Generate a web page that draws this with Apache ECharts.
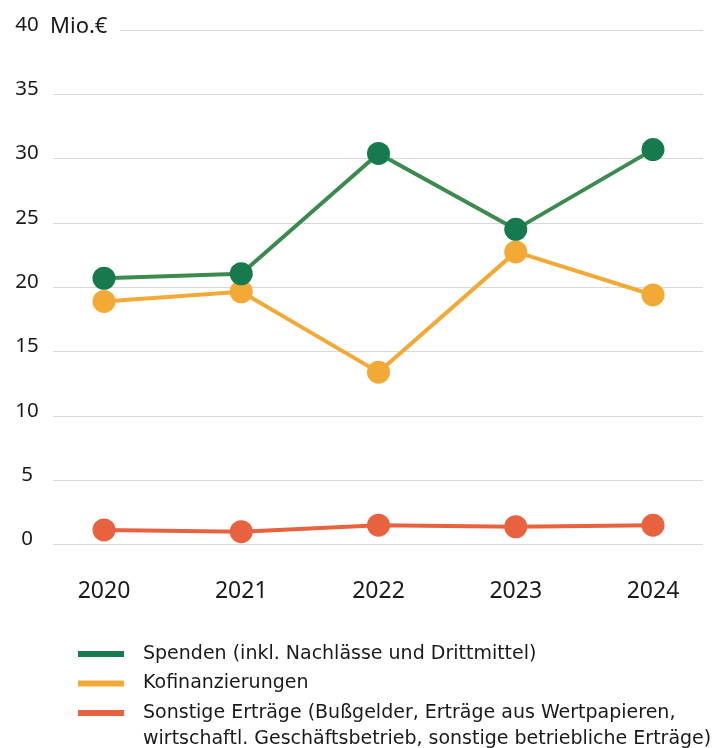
<!DOCTYPE html>
<html><head><meta charset="utf-8">
<script src="https://cdn.jsdelivr.net/npm/echarts@6/dist/echarts.min.js"></script>
<style>html,body{margin:0;padding:0;background:#fff}#c{width:716px;height:748px}</style>
</head><body><div id="c"></div>
<script>
const years = ['2020','2021','2022','2023','2024'];
const spenden = [20.7, 21.05, 30.4, 24.5, 30.7];
const kofinanzierungen = [18.9, 19.65, 13.4, 22.75, 19.4];
const sonstige = [1.13, 1.0, 1.5, 1.38, 1.5];
const yTicks = [0, 5, 10, 15, 20, 25, 30, 35, 40];
const seriesNames = ['Spenden (inkl. Nachlässe und Drittmittel)', 'Kofinanzierungen', 'Sonstige Erträge (Bußgelder, Erträge aus Wertpapieren,'];
const legendLine2 = 'wirtschaftl. Geschäftsbetrieb, sonstige betriebliche Erträge)';
const unit = 'Mio.€';

(function () {
const FONT = 'Noto Sans';
const LFONT = 'DejaVu Sans';
const chart = echarts.init(document.getElementById('c'));
const gTop = 30, gBottom = 748 - 544.5;
const lineCol = ['#3c8b4d', '#f2a935', '#e9623f'];
const dotCol = ['#177a4e', '#f2a935', '#e9623f'];
const data = [spenden, kofinanzierungen, sonstige];

chart.setOption({
  animation: false,
  title: {
    text: unit, left: 47, top: 16,
    padding: [0, 13, 0, 3], backgroundColor: '#fff',
    textStyle: { fontFamily: FONT, fontSize: 22, fontWeight: 'normal', color: '#1a1a1a' }
  },
  grid: [
    { left: 53, right: 13, top: gTop, bottom: gBottom },
    { left: 104, right: 63, top: gTop, bottom: gBottom }
  ],
  xAxis: [
    { gridIndex: 0, type: 'category', data: years, show: false },
    { gridIndex: 1, type: 'category', data: years, boundaryGap: false,
      axisLine: { show: false }, axisTick: { show: false }, splitLine: { show: false },
      axisLabel: { margin: 35, fontFamily: FONT, fontSize: 23, color: '#1a1a1a' } }
  ],
  yAxis: [
    { gridIndex: 0, type: 'value', min: 0, max: 40, interval: 5,
      axisLine: { show: false }, axisTick: { show: false },
      splitLine: { lineStyle: { color: '#d9d9d9', width: 1 } },
      axisLabel: { margin: 26, align: 'center', verticalAlign: 'bottom', fontFamily: FONT, fontSize: 20.5, color: '#1a1a1a', lineHeight: 10,
        formatter: v => yTicks.includes(v) ? String(v) : '' } },
    { gridIndex: 1, type: 'value', min: 0, max: 40, interval: 5, show: false }
  ],
  legend: {
    orient: 'vertical', left: 78, top: 644, itemGap: 9.5, padding: 0,
    itemWidth: 46, itemHeight: 6, icon: 'rect',
    data: seriesNames,
    textStyle: { fontFamily: LFONT, fontSize: 19, lineHeight: 20, color: '#1a1a1a', padding: [0, 0, 0, 14] }
  },
  graphic: [{
    type: 'text', left: 143, top: 729.5,
    style: { text: legendLine2, font: '19px "DejaVu Sans"', lineHeight: 20, fill: '#1a1a1a' }
  }],
  series: data.map((d, i) => ({
    name: seriesNames[i], type: 'line', xAxisIndex: 1, yAxisIndex: 1,
    data: d, symbol: 'circle', symbolSize: 23,
    lineStyle: { color: lineCol[i], width: 4 },
    itemStyle: { color: dotCol[i] },
    z: 3 - i
  }))
});
})();
</script></body></html>
